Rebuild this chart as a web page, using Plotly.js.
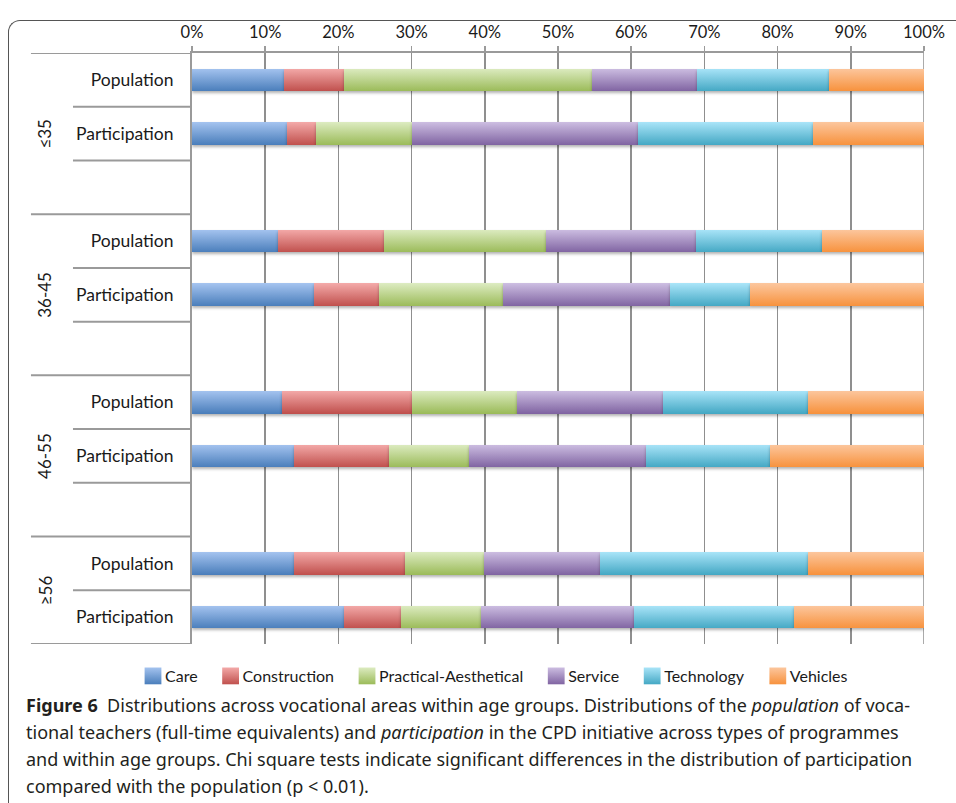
<!DOCTYPE html>
<html><head><meta charset="utf-8">
<script src="https://cdn.plot.ly/plotly-3.0.1.min.js"></script>
<style>
html,body{margin:0;padding:0;background:#fff;}
#wrap{position:relative;width:956px;height:803px;overflow:hidden;}
#chart{position:absolute;left:0;top:0;width:956px;height:803px;}
#frame{position:absolute;left:8px;top:20px;width:1100px;height:900px;border-left:1.3px solid #555;border-top:1.3px solid #555;border-top-left-radius:12px;pointer-events:none;}
</style></head>
<body><div id="wrap"><div id="chart"></div><div id="frame"></div></div>
<script>
// ---- data ----
const groups = ["≤35", "36-45", "46-55", "≥56"];
const subs = ["Population", "Participation"];
const seriesNames = ["Care", "Construction", "Practical-Aesthetical", "Service", "Technology", "Vehicles"];
// rows: ≤35 Pop, ≤35 Part, 36-45 Pop, 36-45 Part, 46-55 Pop, 46-55 Part, ≥56 Pop, ≥56 Part (percent)
const care         = [12.6, 13.0, 11.8, 16.7, 12.3, 13.9, 13.9, 20.7];
const construction = [ 8.1,  3.9, 14.4,  8.9, 17.8, 13.0, 15.2,  7.9];
const practical    = [34.0, 13.1, 22.2, 16.9, 14.3, 11.0, 10.8, 10.9];
const service      = [14.3, 30.9, 20.4, 22.8, 20.0, 24.1, 15.9, 20.9];
const technology   = [18.0, 24.0, 17.2, 10.9, 19.8, 17.0, 28.3, 21.8];
const vehicles     = [13.0, 15.1, 14.0, 23.8, 15.8, 21.0, 15.9, 17.8];
const xTicks = [0, 10, 20, 30, 40, 50, 60, 70, 80, 90, 100];
const caption = [
  "<b>Figure 6</b>\u00a0 Distributions across vocational areas within age groups. Distributions of the <i>population</i> of voca-",
  "tional teachers (full-time equivalents) and <i>participation</i> in the CPD initiative across types of programmes",
  "and within age groups. Chi square tests indicate significant differences in the distribution of participation",
  "compared with the population (p &lt; 0.01)."
];

// ---- styles ----
const colMid = ["#6f9bd6", "#d9716e", "#bcd38c", "#a18bc0", "#72c6e0", "#f9ab6b"];
const colTop = ["#a4c3ef", "#f3a9a8", "#dcebc0", "#ccbde1", "#a9e4f8", "#fcc69d"];
const colBot = ["#4a7ebb", "#c0504d", "#9bbb59", "#8064a2", "#44a8c4", "#f7923d"];
const FONT = "Lato, 'Liberation Sans', sans-serif";
const CAPFONT = "'Noto Sans', 'Liberation Sans', Arial, sans-serif";

// ---- layout of category slots ----
const slotsPerGroup = groups.map((g, i) => i < groups.length - 1 ? subs.length + 1 : subs.length);
const groupStart = [];
let acc = 0;
slotsPerGroup.forEach(n => { groupStart.push(acc); acc += n; });
const totalSlots = acc;
const rowPos = [], rowText = [];
groups.forEach((g, gi) => subs.forEach((s, si) => { rowPos.push(groupStart[gi] + si); rowText.push(s); }));

const seriesVals = [care, construction, practical, service, technology, vehicles];
const traces = seriesVals.map((v, i) => ({
  type: "bar", orientation: "h", name: seriesNames[i],
  x: v, y: rowPos, width: 0.42,
  marker: {color: colMid[i], line: {width: 0}},
  hoverinfo: "name+x"
}));

const shapes = [];
const lineCol = "#9a9a9a";
// right edge gridline (100%)
shapes.push({type: "line", xref: "x", yref: "paper", x0: xTicks[xTicks.length - 1], x1: xTicks[xTicks.length - 1],
  y0: 0, y1: 1, line: {color: "#8f8f8f", width: 1.5}, layer: "below"});
// group separators
groupStart.concat([totalSlots]).forEach(p => shapes.push({
  type: "line", xref: "paper", yref: "y", x0: -0.22, x1: 0, y0: p - 0.5, y1: p - 0.5,
  line: {color: lineCol, width: 2}, layer: "above"
}));
// sub separators
groups.forEach((g, gi) => {
  for (let k = 1; k < slotsPerGroup[gi]; k++) {
    const p = groupStart[gi] + k - 0.5;
    shapes.push({type: "line", xref: "paper", yref: "y", x0: -0.1626, x1: 0, y0: p, y1: p,
      line: {color: lineCol, width: 2}, layer: "above"});
  }
});

const annotations = [];
groups.forEach((g, gi) => annotations.push({
  text: g, xref: "paper", yref: "y", x: -0.2008, y: groupStart[gi] + (slotsPerGroup[gi] - 1) / 2,
  textangle: -90, showarrow: false, font: {family: FONT, size: 17, color: "#1a1a1a"},
  xanchor: "center", yanchor: "middle"
}));
const plotBottom = 644, plotH = 591;
const capY = [705, 732, 759, 786];
caption.forEach((t, i) => annotations.push({
  text: t, xref: "paper", yref: "paper", x: (24 - 192) / 732, y: (plotBottom - capY[i]) / plotH,
  xanchor: "left", yanchor: "middle", align: "left", showarrow: false,
  font: {family: CAPFONT, size: 18, color: "#231f20"}
}));

const layout = {
  width: 956, height: 803,
  margin: {l: 192, r: 32, t: 53, b: 159, pad: 0},
  paper_bgcolor: "rgba(0,0,0,0)", plot_bgcolor: "rgba(0,0,0,0)",
  barmode: "stack", showlegend: true,
  xaxis: {
    side: "top", range: [0, 100], tickvals: xTicks, ticktext: xTicks.map(v => v + "%"),
    showgrid: true, gridcolor: "#8f8f8f", gridwidth: 1.5,
    showline: true, linecolor: lineCol, linewidth: 2, zeroline: false,
    ticks: "outside", ticklen: 5, tickcolor: lineCol, tickwidth: 1.5,
    ticklabelstandoff: 1,
    tickfont: {family: FONT, size: 16.5, color: "#1a1a1a"}, fixedrange: true
  },
  yaxis: {
    range: [totalSlots - 0.5, -0.5], tickvals: rowPos, ticktext: rowText,
    showgrid: false, zeroline: false, showline: true, linecolor: lineCol, linewidth: 2,
    ticks: "outside", ticklen: 13, tickcolor: "rgba(0,0,0,0)",
    tickfont: {family: FONT, size: 17.5, color: "#1a1a1a"}, fixedrange: true
  },
  legend: {
    orientation: "h", x: (489 - 192) / 732, xanchor: "center",
    y: (plotBottom - 676) / plotH, yanchor: "middle",
    font: {family: FONT, size: 16, color: "#1a1a1a"}, traceorder: "normal",
    itemwidth: 30, bgcolor: "rgba(0,0,0,0)"
  },
  shapes: shapes, annotations: annotations
};

Plotly.newPlot("chart", traces, layout, {displayModeBar: false, staticPlot: true}).then(gd => {
  const svg = gd.querySelector(".main-svg");
  let defs = svg.querySelector("defs");
  const NS = "http://www.w3.org/2000/svg";
  colTop.forEach((c, i) => {
    const lg = document.createElementNS(NS, "linearGradient");
    lg.setAttribute("id", "bargrad" + i);
    lg.setAttribute("x1", "0"); lg.setAttribute("y1", "0");
    lg.setAttribute("x2", "0"); lg.setAttribute("y2", "1");
    [[0, c], [1, colBot[i]]].forEach(([o, col]) => {
      const st = document.createElementNS(NS, "stop");
      st.setAttribute("offset", o); st.setAttribute("stop-color", col);
      lg.appendChild(st);
    });
    defs.appendChild(lg);
  });
  gd.querySelectorAll(".barlayer .trace").forEach((tr, i) => {
    tr.querySelectorAll("path").forEach(p => {
      p.style.fill = "url(#bargrad" + i + ")";
      p.style.filter = "drop-shadow(0px 2px 1.5px rgba(0,0,0,0.3))";
    });
  });
  gd.querySelectorAll(".legend .traces").forEach((tr, i) => {
    tr.querySelectorAll(".legendpoints path").forEach(p => {
      p.style.fill = "url(#bargrad" + i + ")";
      const base = p.getAttribute("transform") || "";
      p.setAttribute("transform", base + " translate(8,0) scale(1.4)");
    });
  });
});
</script>
</body></html>
